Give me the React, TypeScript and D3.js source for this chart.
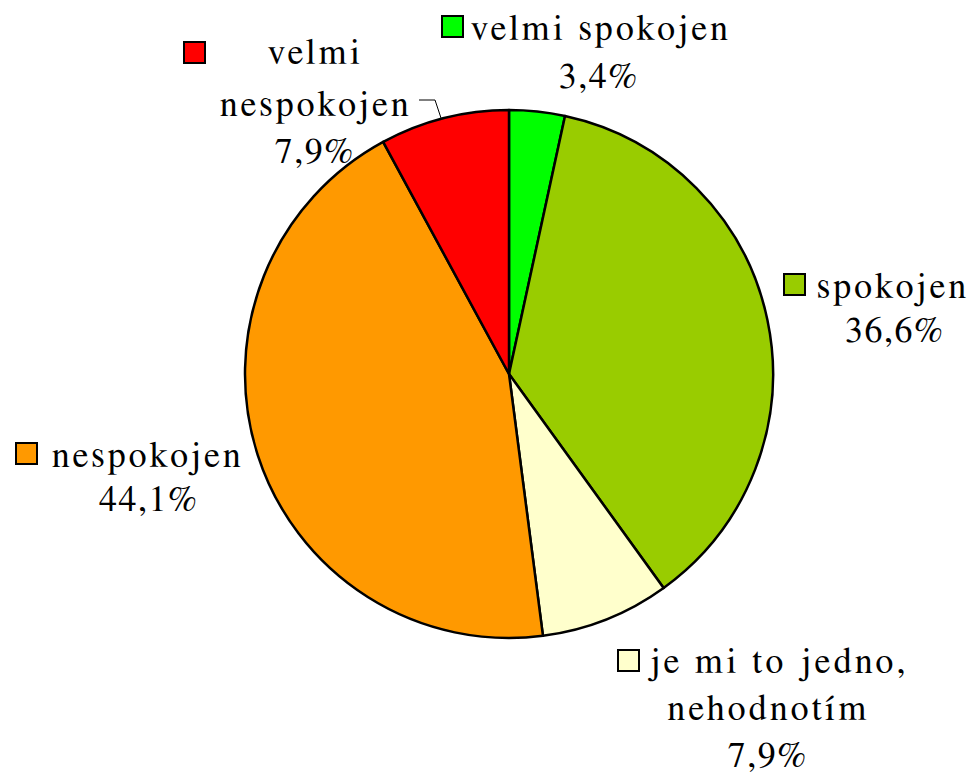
import React from "react";
import * as d3 from "d3";

const categories = ["velmi spokojen", "spokojen", "je mi to jedno, nehodnotím", "nespokojen", "velmi nespokojen"];
const values = [3.4, 36.6, 7.9, 44.1, 7.9];
const valueLabels = ["3,4%", "36,6%", "7,9%", "44,1%", "7,9%"];
const colors = ["#00FF00", "#99CC00", "#FFFFCC", "#FF9900", "#FF0000"];

const W = 974;
const H = 775;
const cx = 509;
const cy = 374;
const R = 264;
const FS = 36;
const LS = 3.3;

type Line = { text: string; x: number; y: number; anchor: "start" | "middle" };
type Layout = { sq: [number, number]; lines: Line[] };

export default function App() {
  const pie = d3.pie<number>().sort(null).value((d) => d)(values);
  const arc = d3.arc<d3.PieArcDatum<number>>().innerRadius(0).outerRadius(R);

  const layouts: Layout[] = [
    {
      sq: [442, 16],
      lines: [
        { text: "velmi spokojen", x: 471, y: 40, anchor: "start" },
        { text: valueLabels[0], x: 598, y: 88, anchor: "middle" },
      ],
    },
    {
      sq: [784, 274],
      lines: [
        { text: "spokojen", x: 817, y: 298, anchor: "start" },
        { text: valueLabels[1], x: 894, y: 342, anchor: "middle" },
      ],
    },
    {
      sq: [618, 650],
      lines: [
        { text: "je mi to jedno,", x: 648, y: 673, anchor: "start" },
        { text: "nehodnotím", x: 767, y: 720, anchor: "middle" },
        { text: valueLabels[2], x: 767, y: 767, anchor: "middle" },
      ],
    },
    {
      sq: [16, 443],
      lines: [
        { text: "nespokojen", x: 52, y: 467, anchor: "start" },
        { text: valueLabels[3], x: 148, y: 511, anchor: "middle" },
      ],
    },
    {
      sq: [184, 42],
      lines: [
        { text: "velmi", x: 314, y: 64, anchor: "middle" },
        { text: "nespokojen", x: 220, y: 116, anchor: "start" },
        { text: valueLabels[4], x: 314, y: 163, anchor: "middle" },
      ],
    },
  ];

  return (
    <svg
      width={W}
      height={H}
      style={{ position: "absolute", left: 0, top: 0, background: "#fff" }}
    >
      <g transform={`translate(${cx},${cy})`}>
        {pie.map((p, i) => (
          <path
            key={categories[i]}
            d={arc(p) || ""}
            fill={colors[i]}
            stroke="#000"
            strokeWidth={2.5}
            strokeLinejoin="round"
          />
        ))}
      </g>
      <polyline
        points="419,100 435,100 441,118"
        fill="none"
        stroke="#000"
        strokeWidth={1}
      />
      {layouts.map((l, i) => (
        <g key={categories[i]}>
          <rect
            x={l.sq[0]}
            y={l.sq[1]}
            width={21}
            height={21}
            fill={colors[i]}
            stroke="#000"
            strokeWidth={2}
          />
          {l.lines.map((ln, j) => {
            const pct = ln.text.includes("%");
            const ls = pct ? 1.5 : LS;
            return (
              <text
                key={j}
                x={ln.anchor === "middle" ? ln.x + ls / 2 : ln.x}
                y={ln.y}
                textAnchor={ln.anchor}
                fontFamily="FreeSerif"
                fontSize={FS}
                letterSpacing={ls}
                fill="#000"
              >
                {ln.text}
              </text>
            );
          })}
        </g>
      ))}
    </svg>
  );
}
